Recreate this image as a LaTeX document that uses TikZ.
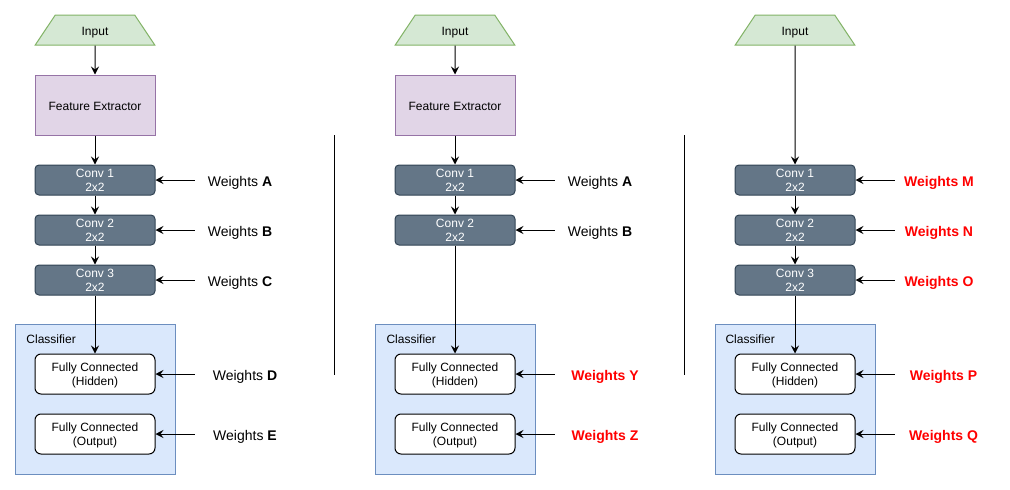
\documentclass[tikz,border=0pt]{standalone}
\usepackage{fontspec}
\setmainfont{Liberation Sans}
\usepackage{xcolor}
\usepackage{tikz}
\usetikzlibrary{
  arrows.meta,
  shapes.geometric
}
\definecolor{inputfill}{HTML}{D5E8D4}
\definecolor{inputline}{HTML}{82B366}
\definecolor{featfill}{HTML}{E1D5E7}
\definecolor{featline}{HTML}{9673A6}
\definecolor{convfill}{HTML}{647687}
\definecolor{convline}{HTML}{314354}
\definecolor{clsfill}{HTML}{DAE8FC}
\definecolor{clsline}{HTML}{6C8EBF}
\definecolor{wred}{HTML}{FF0000}
\tikzset{
  small/.style={font=\fontsize{12}{14}\selectfont},
  big/.style={font=\fontsize{14}{16}\selectfont},
  inputbox/.style={
    small,
    trapezium,
    trapezium left angle=56,
    trapezium right angle=56,
    trapezium stretches=true,
    minimum width=120,
    minimum height=30,
    inner sep=0,
    text height=10,
    text depth=0,
    draw=inputline,
    fill=inputfill},
  featbox/.style={
    small,
    minimum width=120,
    minimum height=60,
    inner sep=0,
    text height=10,
    text depth=0,
    draw=featline,
    fill=featfill},
  convbox/.style={
    small,
    align=center,
    text=white,
    rounded corners=4,
    minimum width=120,
    minimum height=30,
    inner sep=0,
    text depth=0,
    draw=convline,
    fill=convfill},
  clsbox/.style={
    minimum width=160,
    minimum height=150,
    draw=clsline,
    fill=clsfill},
  fcbox/.style={
    small,
    align=center,
    rounded corners=6,
    minimum width=120,
    minimum height=40,
    inner sep=0,
    text depth=0,
    draw=black,
    fill=white},
  wlabel/.style={
    big,
    inner sep=0,
    text height=13,
    text depth=0},
  redlabel/.style={
    wlabel,
    text=wred,
    font=\fontsize{14}{16}\selectfont\bfseries},
  arr/.style={
    -{Stealth[length=8pt,width=8pt,inset=3pt]}}
  }

\begin{document}
\begin{tikzpicture}[x=1pt, y=-1pt, line width=1pt]
		\useasboundingbox (0,0) rectangle (1010,490);
		% first column
		\node [inputbox] (in1) at (95,30) {Input};
		\node [featbox] (fe1) at (95,105) {Feature Extractor};
		\node [convbox] (ca1) at (95,180) {Conv 1\\2x2};
		\node [convbox] (cb1) at (95,230) {Conv 2\\2x2};
		\node [convbox] (cc1) at (95,280) {Conv 3\\2x2};
		\node [clsbox] (cl1) at (95,399) {};
		\node [small, anchor=west, inner sep=0] (cn1) at (26,339) {Classifier};
		\node [fcbox] (fh1) at (95,374) {Fully Connected\\(Hidden)};
		\node [fcbox] (fo1) at (95,434) {Fully Connected\\(Output)};
		\node [wlabel, minimum width=90] (wa1) at (240,180) {Weights \textbf{A}};
		\node [wlabel, minimum width=90] (wb1) at (240,230) {Weights \textbf{B}};
		\node [wlabel, minimum width=90] (wc1) at (240,280) {Weights \textbf{C}};
		\node [wlabel, minimum width=100] (wd1) at (245,374) {Weights \textbf{D}};
		\node [wlabel, minimum width=100] (we1) at (245,434) {Weights \textbf{E}};
		\draw [arr] (in1) to (fe1);
		\draw [arr] (fe1) to (ca1);
		\draw [arr] (ca1) to (cb1);
		\draw [arr] (cb1) to (cc1);
		\draw [arr] (cc1) to (fh1);
		\draw [arr] (wa1.west) to (ca1.east);
		\draw [arr] (wb1.west) to (cb1.east);
		\draw [arr] (wc1.west) to (cc1.east);
		\draw [arr] (wd1.west) to (fh1.east);
		\draw [arr] (we1.west) to (fo1.east);
		% second column
		\node [inputbox] (in2) at (455,30) {Input};
		\node [featbox] (fe2) at (455,105) {Feature Extractor};
		\node [convbox] (ca2) at (455,180) {Conv 1\\2x2};
		\node [convbox] (cb2) at (455,230) {Conv 2\\2x2};
		\node [clsbox] (cl2) at (455,399) {};
		\node [small, anchor=west, inner sep=0] (cn2) at (386,339) {Classifier};
		\node [fcbox] (fh2) at (455,374) {Fully Connected\\(Hidden)};
		\node [fcbox] (fo2) at (455,434) {Fully Connected\\(Output)};
		\node [wlabel, minimum width=90] (wa2) at (600,180) {Weights \textbf{A}};
		\node [wlabel, minimum width=90] (wb2) at (600,230) {Weights \textbf{B}};
		\node [redlabel, minimum width=100] (wy2) at (605,374) {Weights Y};
		\node [redlabel, minimum width=100] (wz2) at (605,434) {Weights Z};
		\draw [arr] (in2) to (fe2);
		\draw [arr] (fe2) to (ca2);
		\draw [arr] (ca2) to (cb2);
		\draw [arr] (cb2) to (fh2);
		\draw [arr] (wa2.west) to (ca2.east);
		\draw [arr] (wb2.west) to (cb2.east);
		\draw [arr] (wy2.west) to (fh2.east);
		\draw [arr] (wz2.west) to (fo2.east);
		% third column
		\node [inputbox] (in3) at (795,30) {Input};
		\node [convbox] (ca3) at (795,180) {Conv 1\\2x2};
		\node [convbox] (cb3) at (795,230) {Conv 2\\2x2};
		\node [convbox] (cc3) at (795,280) {Conv 3\\2x2};
		\node [clsbox] (cl3) at (795,399) {};
		\node [small, anchor=west, inner sep=0] (cn3) at (725,339) {Classifier};
		\node [fcbox] (fh3) at (795,374) {Fully Connected\\(Hidden)};
		\node [fcbox] (fo3) at (795,434) {Fully Connected\\(Output)};
		\node [redlabel, minimum width=88] (wm3) at (939,180) {Weights M};
		\node [redlabel, minimum width=88] (wn3) at (939,230) {Weights N};
		\node [redlabel, minimum width=88] (wo3) at (939,280) {Weights O};
		\node [redlabel, minimum width=97] (wp3) at (943.5,374) {Weights P};
		\node [redlabel, minimum width=97] (wq3) at (943.5,434) {Weights Q};
		\draw [arr] (in3) to (ca3);
		\draw [arr] (ca3) to (cb3);
		\draw [arr] (cb3) to (cc3);
		\draw [arr] (cc3) to (fh3);
		\draw [arr] (wm3.west) to (ca3.east);
		\draw [arr] (wn3.west) to (cb3.east);
		\draw [arr] (wo3.west) to (cc3.east);
		\draw [arr] (wp3.west) to (fh3.east);
		\draw [arr] (wq3.west) to (fo3.east);
		% separators
		\draw (334,135) -- (334,375);
		\draw (684,135) -- (684,375);
	\end{tikzpicture}
\end{document}
